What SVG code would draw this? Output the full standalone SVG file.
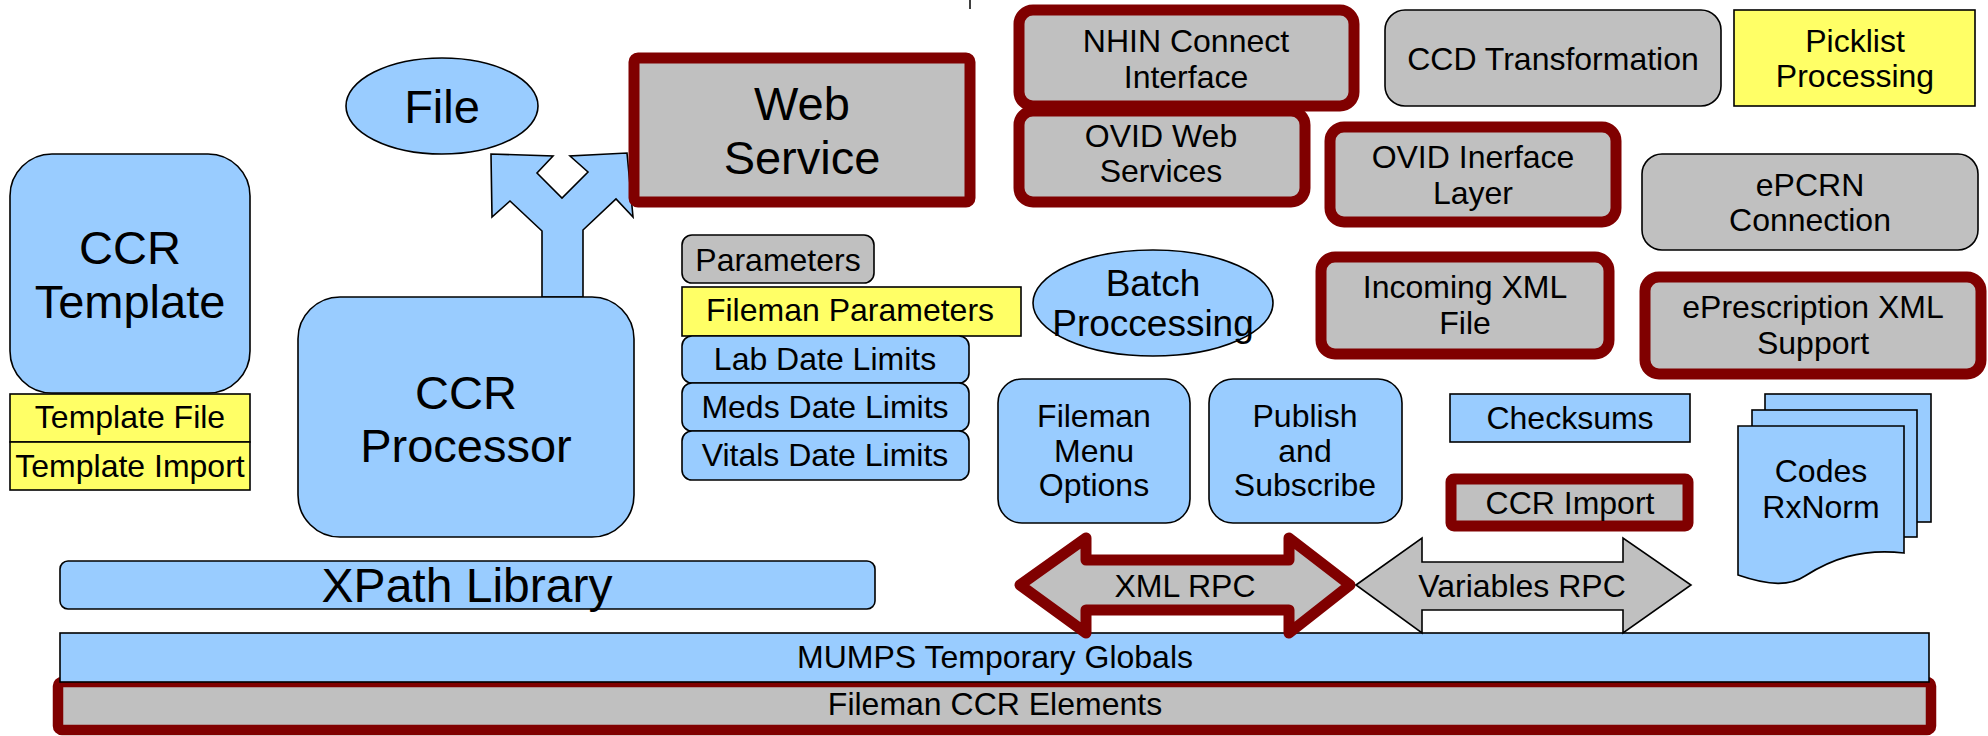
<svg xmlns="http://www.w3.org/2000/svg" width="1988" height="736" viewBox="0 0 1988 736">
<style>
text{font-family:"Liberation Sans",Arial,sans-serif;fill:#000;text-anchor:middle}
.big{font-size:47px}
.med{font-size:32px}
.blue{fill:#99CCFF;stroke:#000;stroke-width:1.6}
.gray{fill:#C0C0C0;stroke:#000;stroke-width:1.6}
.yel{fill:#FFFF66;stroke:#000;stroke-width:1.6}
.red{fill:#C0C0C0;stroke:#800000;stroke-width:11;stroke-linejoin:round}
</style>
<rect width="1988" height="736" fill="#fff"/>
<line x1="970" y1="0" x2="970" y2="9" stroke="#000" stroke-width="1.5"/>

<g id="connectors">
<polygon id="split-arrow" class="blue" points="542,297 542,231 510,201 492,217 491,154 553,156 537,173 562,198 588,172 570,156 627,153 633,217 616,199 583,230 583,297"/>
</g>

<g id="ccr-template"><rect class="blue" x="10" y="154" width="240" height="239" rx="42"/>
<text class="big" x="130" y="264">CCR</text><text class="big" x="130" y="318">Template</text></g>
<g id="template-file"><rect class="yel" x="10" y="394" width="240" height="48"/><text class="med" x="130" y="428">Template File</text></g>
<g id="template-import"><rect class="yel" x="10" y="442" width="240" height="48"/><text class="med" x="130" y="477">Template Import</text></g>

<g id="file"><ellipse class="blue" cx="442" cy="106" rx="96" ry="48"/><text class="big" x="442" y="123">File</text></g>
<g id="web-service"><rect class="red" x="634" y="58" width="336" height="144" rx="4"/>
<text class="big" x="802" y="120">Web</text><text class="big" x="802" y="174">Service</text></g>

<g id="ccr-processor"><rect class="blue" x="298" y="297" width="336" height="240" rx="42"/>
<text class="big" x="466" y="409">CCR</text><text class="big" x="466" y="462">Processor</text></g>

<g id="parameters"><rect class="gray" x="682" y="235" width="192" height="48" rx="10"/><text class="med" x="778" y="271">Parameters</text></g>
<g id="fileman-parameters"><rect class="yel" x="682" y="287" width="339" height="49"/><text class="med" x="850" y="321">Fileman Parameters</text></g>
<g id="lab-date-limits"><rect class="blue" x="682" y="336" width="287" height="47" rx="10"/><text class="med" x="825" y="370">Lab Date Limits</text></g>
<g id="meds-date-limits"><rect class="blue" x="682" y="383" width="287" height="48" rx="10"/><text class="med" x="825" y="418">Meds Date Limits</text></g>
<g id="vitals-date-limits"><rect class="blue" x="682" y="431" width="287" height="49" rx="10"/><text class="med" x="825" y="466">Vitals Date Limits</text></g>

<g id="nhin"><rect class="red" x="1019" y="10" width="335" height="96" rx="14"/>
<text class="med" x="1186" y="52">NHIN Connect</text><text class="med" x="1186" y="88">Interface</text></g>
<g id="ovid-web"><rect class="red" x="1019" y="111" width="286" height="91" rx="14"/>
<text class="med" x="1161" y="147">OVID Web</text><text class="med" x="1161" y="182">Services</text></g>
<g id="ccd"><rect class="gray" x="1385" y="10" width="336" height="96" rx="20"/><text class="med" x="1553" y="70">CCD Transformation</text></g>
<g id="picklist"><rect class="yel" x="1734" y="10" width="241" height="96"/>
<text class="med" x="1855" y="52">Picklist</text><text class="med" x="1855" y="87">Processing</text></g>
<g id="ovid-interface"><rect class="red" x="1330" y="127" width="286" height="95" rx="14"/>
<text class="med" x="1473" y="168">OVID Inerface</text><text class="med" x="1473" y="204">Layer</text></g>
<g id="epcrn"><rect class="gray" x="1642" y="154" width="336" height="96" rx="20"/>
<text class="med" x="1810" y="196">ePCRN</text><text class="med" x="1810" y="231">Connection</text></g>

<g id="batch"><ellipse class="blue" cx="1153" cy="303" rx="120" ry="53"/>
<text x="1153" y="296" style="font-size:37px">Batch</text><text x="1153" y="336" style="font-size:37px">Proccessing</text></g>
<g id="incoming"><rect class="red" x="1321" y="257" width="288" height="97" rx="14"/>
<text class="med" x="1465" y="298">Incoming XML</text><text class="med" x="1465" y="334">File</text></g>
<g id="eprescription"><rect class="red" x="1645" y="277" width="336" height="97" rx="14"/>
<text class="med" x="1813" y="318">ePrescription XML</text><text class="med" x="1813" y="354">Support</text></g>

<g id="fileman-menu"><rect class="blue" x="998" y="379" width="192" height="144" rx="24"/>
<text class="med" x="1094" y="427">Fileman</text><text class="med" x="1094" y="462">Menu</text><text class="med" x="1094" y="496">Options</text></g>
<g id="publish"><rect class="blue" x="1209" y="379" width="193" height="144" rx="24"/>
<text class="med" x="1305" y="427">Publish</text><text class="med" x="1305" y="462">and</text><text class="med" x="1305" y="496">Subscribe</text></g>
<g id="checksums"><rect class="blue" x="1450" y="394" width="240" height="48"/><text class="med" x="1570" y="429">Checksums</text></g>
<g id="ccr-import"><rect class="red" x="1451" y="479" width="237" height="47" rx="3"/><text class="med" x="1570" y="514">CCR Import</text></g>
<g id="codes">
<rect class="blue" x="1765" y="394" width="166" height="128"/>
<rect class="blue" x="1752" y="410" width="165" height="127"/>
<path class="blue" d="M1738,426 H1904 V553 C1860,548 1830,560 1805,576 C1790,586 1770,586 1738,575 Z"/>
<text class="med" x="1821" y="482">Codes</text><text class="med" x="1821" y="518">RxNorm</text></g>

<g id="xpath"><rect class="blue" x="60" y="561" width="815" height="48" rx="8"/><text x="467" y="602" style="font-size:48px">XPath Library</text></g>

<g id="fileman-ccr"><rect fill="#C0C0C0" stroke="#800000" stroke-width="10.5" x="58" y="682" width="1873" height="48" rx="4"/><text class="med" x="995" y="715">Fileman CCR Elements</text></g>
<g id="mumps"><rect class="blue" x="60" y="633" width="1869" height="49"/><text class="med" x="995" y="668">MUMPS Temporary Globals</text></g>

<g id="xml-rpc"><polygon class="red" points="1020,585 1086,538 1086,560 1289,560 1289,538 1350,585 1289,633 1289,610 1086,610 1086,633"/>
<text class="med" x="1185" y="597">XML RPC</text></g>
<g id="variables-rpc"><polygon class="gray" points="1356,585 1422,538 1422,562 1623,562 1623,538 1691,585 1623,633 1623,610 1422,610 1422,633"/>
<text class="med" x="1522" y="597">Variables RPC</text></g>
</svg>
